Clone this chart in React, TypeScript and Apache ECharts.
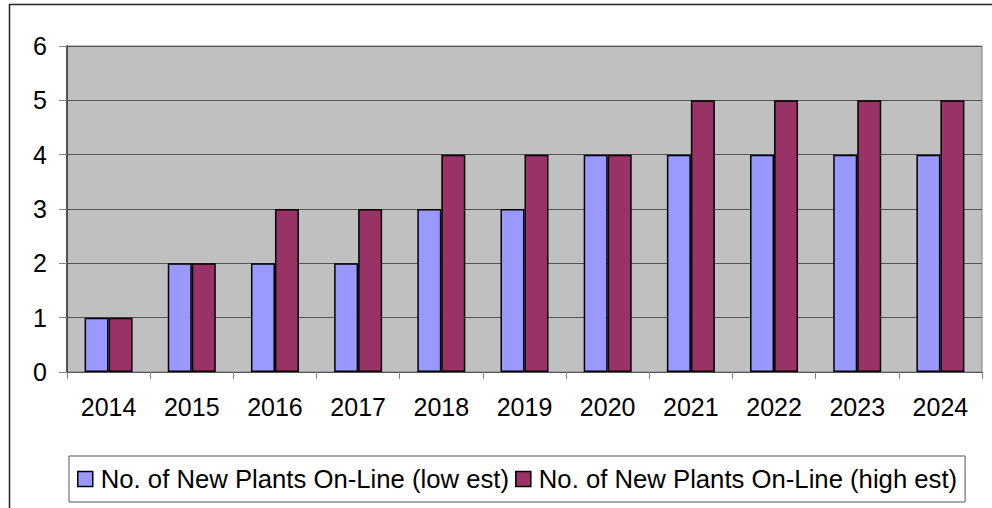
import React, { useEffect, useRef } from "react";
import * as echarts from "echarts";

const categories = ["2014", "2015", "2016", "2017", "2018", "2019", "2020", "2021", "2022", "2023", "2024"];
const lowEst = [1, 2, 2, 2, 3, 3, 4, 4, 4, 4, 4];
const highEst = [1, 2, 3, 3, 4, 4, 4, 5, 5, 5, 5];
const seriesNames = ["No. of New Plants On-Line (low est)", "No. of New Plants On-Line (high est)"];

export default function App() {
  const ref = useRef<HTMLDivElement>(null);
  useEffect(() => {
    if (!ref.current) return;
    const chart = echarts.init(ref.current, undefined, { renderer: "svg" });
    const font = "Liberation Sans, Arial, sans-serif";
    chart.setOption({
      animation: false,
      backgroundColor: "#ffffff",
      textStyle: { fontFamily: font },
      graphic: [
        {
          type: "rect",
          shape: { x: 9.5, y: 4.5, width: 1200, height: 800 },
          style: { fill: "none", stroke: "#222", lineWidth: 1.5 },
          z: -10,
        },
      ],
      grid: { left: 67, top: 46, right: 10, bottom: 136, backgroundColor: "#c0c0c0", show: true, borderColor: "#808080", borderWidth: 1 },
      legend: {
        left: 69,
        top: 456,
        icon: "rect",
        itemWidth: 15,
        itemHeight: 15,
        itemGap: 6,
        padding: [10, 8, 10, 8],
        borderColor: "#555",
        borderWidth: 1,
        textStyle: { fontSize: 25.7, color: "#000", fontFamily: font, padding: [0, 0, 0, 3] },
        data: seriesNames.map((n) => ({ name: n, itemStyle: { borderColor: "#000", borderWidth: 1.5 } })),
      },
      xAxis: {
        type: "category",
        data: categories,
        axisLine: { lineStyle: { color: "#555", width: 1 } },
        axisTick: { show: true, length: 7, lineStyle: { color: "#808080" } },
        axisLabel: { fontSize: 25, color: "#000", margin: 22, fontFamily: font },
      },
      yAxis: {
        type: "value",
        min: 0,
        max: 6,
        interval: 1,
        axisLine: { show: true, lineStyle: { color: "#333", width: 1.5 } },
        axisTick: { show: true, length: 8, lineStyle: { color: "#808080" } },
        axisLabel: { fontSize: 25, color: "#000", margin: 20, fontFamily: font },
        splitLine: { show: true, lineStyle: { color: "#555", width: 1 } },
      },
      series: [
        {
          name: seriesNames[0],
          type: "bar",
          data: lowEst,
          barWidth: 24,
          barGap: "0%",
          itemStyle: { color: "#9999ff", borderColor: "#000", borderWidth: 1.5 },
        },
        {
          name: seriesNames[1],
          type: "bar",
          data: highEst,
          barWidth: 24,
          barGap: "0%",
          itemStyle: { color: "#993366", borderColor: "#000", borderWidth: 1.5 },
        },
      ],
    });
    return () => chart.dispose();
  }, []);
  return <div ref={ref} style={{ position: "fixed", left: 0, top: 0, width: 992, height: 508 }} />;
}
